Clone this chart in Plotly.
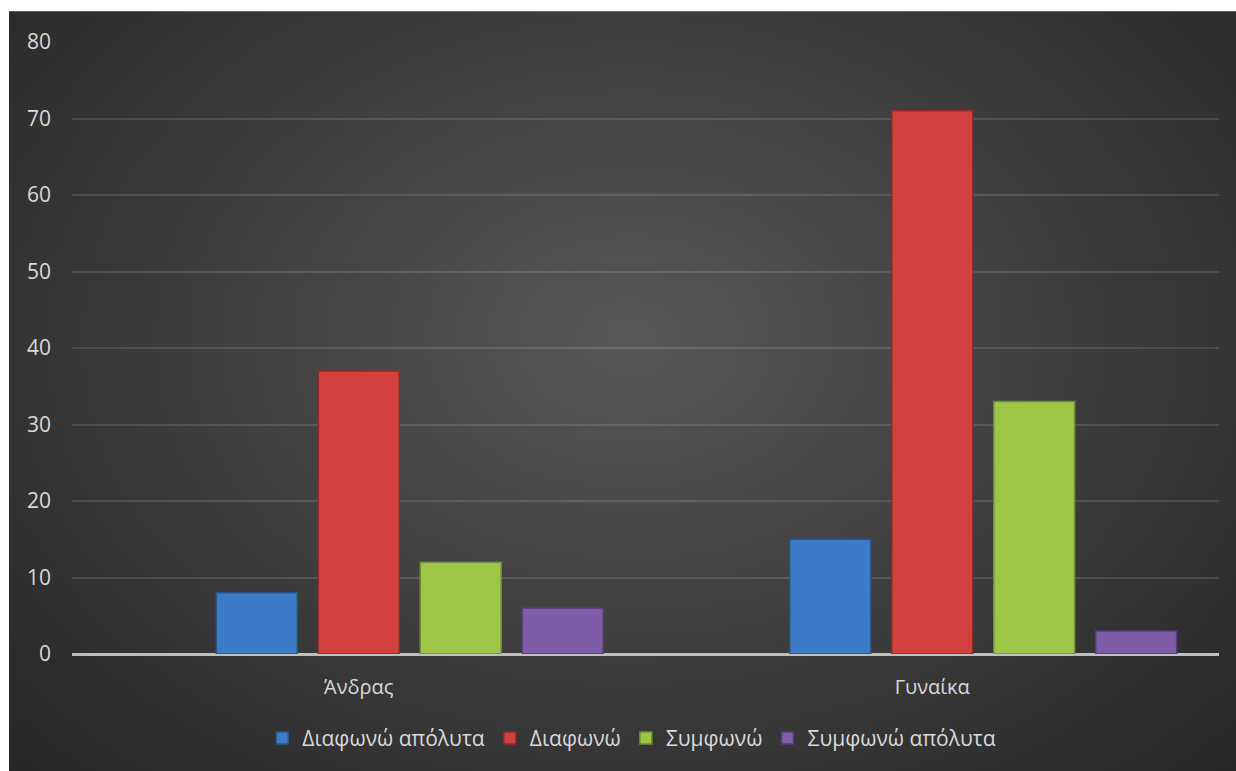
import base64, struct, zlib
import numpy as np
import plotly.graph_objects as go

categories = ["Άνδρας", "Γυναίκα"]
series_names = ["Διαφωνώ απόλυτα", "Διαφωνώ", "Συμφωνώ", "Συμφωνώ απόλυτα"]
values_empty = [0, 0]  # empty first series slot (present in source chart, no data)
values_disagree_abs = [8, 15]
values_disagree = [37, 71]
values_agree = [12, 33]
values_agree_abs = [6, 3]
series_values = [values_disagree_abs, values_disagree, values_agree, values_agree_abs]
colors = ["#3C7BC6", "#D3413E", "#9DC646", "#7E5CA8"]
edge_colors = ["#28558C", "#922A28", "#6E8E35", "#553C78"]
y_ticks = [0, 10, 20, 30, 40, 50, 60, 70, 80]

# radial gradient background image
W, H = 300, 190
yy, xx = np.mgrid[0:H, 0:W]
cx, cy = W * 0.5, H * 0.42
d = np.sqrt(((xx - cx) / (W * 0.5)) ** 2 + ((yy - cy) / (H * 0.58)) ** 2) / np.sqrt(2)
d = np.clip(d, 0, 1)
val = (90 - 52 * d ** 0.9).astype(np.uint8)
raw = b"".join(b"\x00" + bytes(np.stack([row, row, row], axis=1).flatten()) for row in val)


def chunk(tag, data):
    c = struct.pack(">I", len(data)) + tag + data
    return c + struct.pack(">I", zlib.crc32(tag + data) & 0xffffffff)


png = b"\x89PNG\r\n\x1a\n" + chunk(b"IHDR", struct.pack(">IIBBBBB", W, H, 8, 2, 0, 0, 0)) \
    + chunk(b"IDAT", zlib.compress(raw, 9)) + chunk(b"IEND", b"")
img_src = "data:image/png;base64," + base64.b64encode(png).decode()

fig = go.Figure()
fig.add_trace(go.Bar(
    x=categories, y=values_empty, name="", showlegend=False, hoverinfo="skip",
    marker=dict(color="rgba(0,0,0,0)", line=dict(width=0)),
))
for name, vals, col, ec in zip(series_names, series_values, colors, edge_colors):
    fig.add_trace(go.Bar(
        x=categories, y=vals, name=name,
        marker=dict(color=col, line=dict(color=ec, width=1.5)),
    ))

FIG_W, FIG_H = 1236, 771
L, R, T, B = 72, 17, 42, 113
pw, ph = FIG_W - L - R, FIG_H - T - B
x0 = (9 - L) / pw
x1 = (FIG_W + 10 - L) / pw
y_top = (FIG_H - B - 11) / ph
y_bot = (FIG_H - B - FIG_H - 20) / ph

fig.add_layout_image(dict(
    source=img_src, xref="paper", yref="paper",
    x=x0, y=y_top, sizex=x1 - x0, sizey=y_top - y_bot,
    xanchor="left", yanchor="top", sizing="stretch", layer="below",
))
# white page strips at the top and left of the dark chart panel
fig.add_shape(type="rect", xref="paper", yref="paper", layer="below",
              x0=-0.2, x1=1.2, y0=y_top, y1=y_top + 0.2,
              fillcolor="white", line=dict(width=0))
fig.add_shape(type="rect", xref="paper", yref="paper", layer="below",
              x0=-0.2, x1=x0, y0=-0.5, y1=y_top + 0.2,
              fillcolor="white", line=dict(width=0))

font_family = "Open Sans, Noto Sans, sans-serif"
fig.update_layout(
    width=FIG_W, height=FIG_H,
    margin=dict(l=L, r=R, t=T, b=B),
    paper_bgcolor="#272727",
    plot_bgcolor="rgba(0,0,0,0)",
    barmode="group", bargap=0.111, bargroupgap=0.206,
    font=dict(family=font_family, color="#D9D9D9", size=20),
    showlegend=True,
    legend=dict(orientation="h", x=0.488, xanchor="center", y=-0.138, yanchor="middle",
                font=dict(size=21, color="#D9D9D9"), bgcolor="rgba(0,0,0,0)",
                itemwidth=30, traceorder="normal"),
    xaxis=dict(showgrid=False, showline=False, ticks="", tickfont=dict(size=20),
               ticklabelstandoff=19),
    yaxis=dict(range=[0, 80], tickvals=y_ticks, showgrid=True,
               gridcolor="rgba(255,255,255,0.12)", gridwidth=1.5,
               zeroline=True, zerolinecolor="#BFBFBF", zerolinewidth=2.5,
               showline=False, ticks="", tickfont=dict(size=21), ticklabelstandoff=20),
)

fig.write_html("out.html",
               post_script="document.body.style.background='#272727';document.body.style.margin='0';")
